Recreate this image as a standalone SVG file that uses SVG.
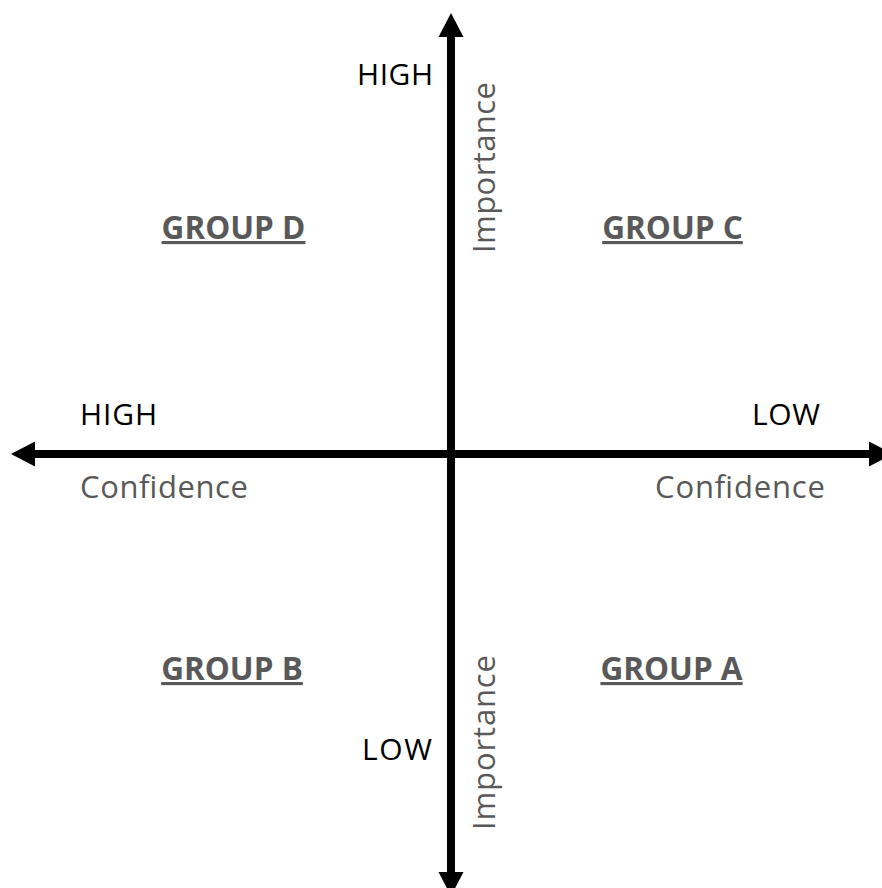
<svg xmlns="http://www.w3.org/2000/svg" width="882" height="888" viewBox="0 0 882 888">
<style>
.lbl{font-family:"Open Sans","Liberation Sans",sans-serif;font-size:30px;fill:#000}
.ax{font-family:"Open Sans","Liberation Sans",sans-serif;font-size:31px;fill:#595959}
.grp{font-family:"Open Sans","Liberation Sans",sans-serif;font-size:31.5px;font-weight:bold;fill:#595959;text-decoration:underline}
.axis{stroke:#000;stroke-width:8;fill:none}
</style>
<rect width="882" height="888" fill="#fff"/>
<g id="connectors">
<line class="axis" x1="451" y1="36" x2="451" y2="873"/>
<polygon points="451,13 438.5,37 463.5,37" fill="#000"/>
<polygon points="451,896 438.5,872 463.5,872" fill="#000"/>
<line class="axis" x1="34" y1="454" x2="870" y2="454"/>
<polygon points="11,454 35,441.5 35,466.5" fill="#000"/>
<polygon points="893,454 869,441.5 869,466.5" fill="#000"/>
</g>
<g id="group-d"><text class="grp" x="233.5" y="239" text-anchor="middle">GROUP D</text></g>
<g id="group-c"><text class="grp" x="672.5" y="239" text-anchor="middle">GROUP C</text></g>
<g id="group-b"><text class="grp" x="232" y="680" text-anchor="middle">GROUP B</text></g>
<g id="group-a"><text class="grp" x="671.5" y="680" text-anchor="middle">GROUP A</text></g>
<g id="labels">
<text class="lbl" x="357" y="85" textLength="76">HIGH</text>
<text class="lbl" x="80" y="425" textLength="77">HIGH</text>
<text class="lbl" x="820" y="425" text-anchor="end" textLength="68">LOW</text>
<text class="lbl" x="432" y="760" text-anchor="end" textLength="70">LOW</text>
<text class="ax" x="80" y="498" textLength="168">Confidence</text>
<text class="ax" x="825" y="498" text-anchor="end" textLength="170">Confidence</text>
<text class="ax" transform="translate(495,253) rotate(-90)" textLength="171">Importance</text>
<text class="ax" transform="translate(495,830) rotate(-90)" textLength="175">Importance</text>
</g>
</svg>
